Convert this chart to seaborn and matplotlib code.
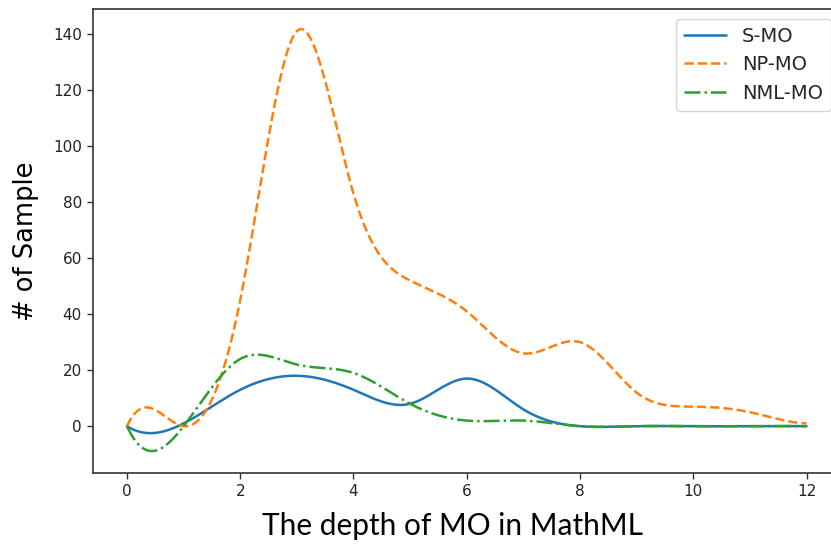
import numpy as np
import pandas as pd
import matplotlib
matplotlib.use("Agg")
import matplotlib.pyplot as plt
import seaborn as sns

# Number of samples per MO depth (depth 0..12)
depth = [0, 1, 2, 3, 4, 5, 6, 7, 8, 9, 10, 11, 12]
s_mo = [0, 1, 13, 18, 13, 8, 17, 6, 0, 0, 0, 0, 0]
np_mo = [0, 0, 45, 141, 83, 52, 41, 26, 30, 12, 7, 5, 1]
nml_mo = [0, 0, 24, 22, 19, 8, 2, 2, 0, 0, 0, 0, 0]

series_names = ["S-MO", "NP-MO", "NML-MO"]
series_values = [s_mo, np_mo, nml_mo]
series_colors = ["#1f77b4", "#ff7f0e", "#2ca02c"]
series_styles = ["-", "--", "-."]


def smooth(x, y, num=400):
    """Cubic interpolating spline whose third-derivative jumps at the knots
    have the smallest total square ("smoothest" spline), on uniform knots."""
    x = np.asarray(x, float)
    y = np.asarray(y, float)
    n = len(x)
    h = x[1] - x[0]
    # interpolation constraints on the second derivatives M
    C = np.zeros((n - 2, n))
    r = np.zeros(n - 2)
    for i in range(1, n - 1):
        C[i - 1, i - 1:i + 2] = [1, 4, 1]
        r[i - 1] = 6.0 / h ** 2 * (y[i - 1] - 2 * y[i] + y[i + 1])
    # third-derivative jumps at interior knots
    D = np.zeros((n - 2, n))
    for i in range(1, n - 1):
        D[i - 1, i - 1:i + 2] = [1, -2, 1]
    K = np.block([[2 * D.T @ D, C.T], [C, np.zeros((n - 2, n - 2))]])
    rhs = np.concatenate([np.zeros(n), r])
    M = np.linalg.solve(K, rhs)[:n]
    xs = np.linspace(x[0], x[-1], num)
    idx = np.clip(((xs - x[0]) // h).astype(int), 0, n - 2)
    x0, x1 = x[idx], x[idx + 1]
    ys = (M[idx] * (x1 - xs) ** 3 / (6 * h) + M[idx + 1] * (xs - x0) ** 3 / (6 * h)
          + (y[idx] / h - M[idx] * h / 6) * (x1 - xs)
          + (y[idx + 1] / h - M[idx + 1] * h / 6) * (xs - x0))
    return xs, ys


sns.set_style("ticks")
plt.rcParams["font.family"] = ["DejaVu Sans"]
plt.rcParams["axes.edgecolor"] = "#333333"
plt.rcParams["axes.linewidth"] = 1.2

fig = plt.figure(figsize=(8.31, 5.46), dpi=100)
ax = fig.add_axes([93 / 831, (546 - 472.7) / 546, (840.5 - 93) / 831, (472.7 - 9) / 546])

frames = []
for name, vals in zip(series_names, series_values):
    xs, ys = smooth(depth, vals)
    frames.append(pd.DataFrame({"depth": xs, "count": ys, "series": name}))
data = pd.concat(frames, ignore_index=True)

for name, color, ls in zip(series_names, series_colors, series_styles):
    sub = data[data["series"] == name]
    sns.lineplot(data=sub, x="depth", y="count", ax=ax, color=color,
                 linestyle=ls, linewidth=1.8, label=name)

ax.set_xlim(-0.6, 12.6)
ax.set_ylim(-16.6, 148.9)
ax.set_xticks([0, 2, 4, 6, 8, 10, 12])
ax.set_yticks([0, 20, 40, 60, 80, 100, 120, 140])
ax.tick_params(axis="both", labelsize=11, length=4.5, width=1.0,
               colors="#333333", labelcolor="#222222")

ax.set_xlabel("The depth of MO in MathML", fontsize=21.5, family=["Lato", "DejaVu Sans"],
              color="black")
ax.xaxis.set_label_coords(0.481, -0.085)
ax.set_ylabel("# of Sample", fontsize=18.5, color="black", labelpad=10)

ax.legend(loc="upper right", fontsize=14, frameon=True, handlelength=2.2)

fig.savefig("out.png", dpi=100)
